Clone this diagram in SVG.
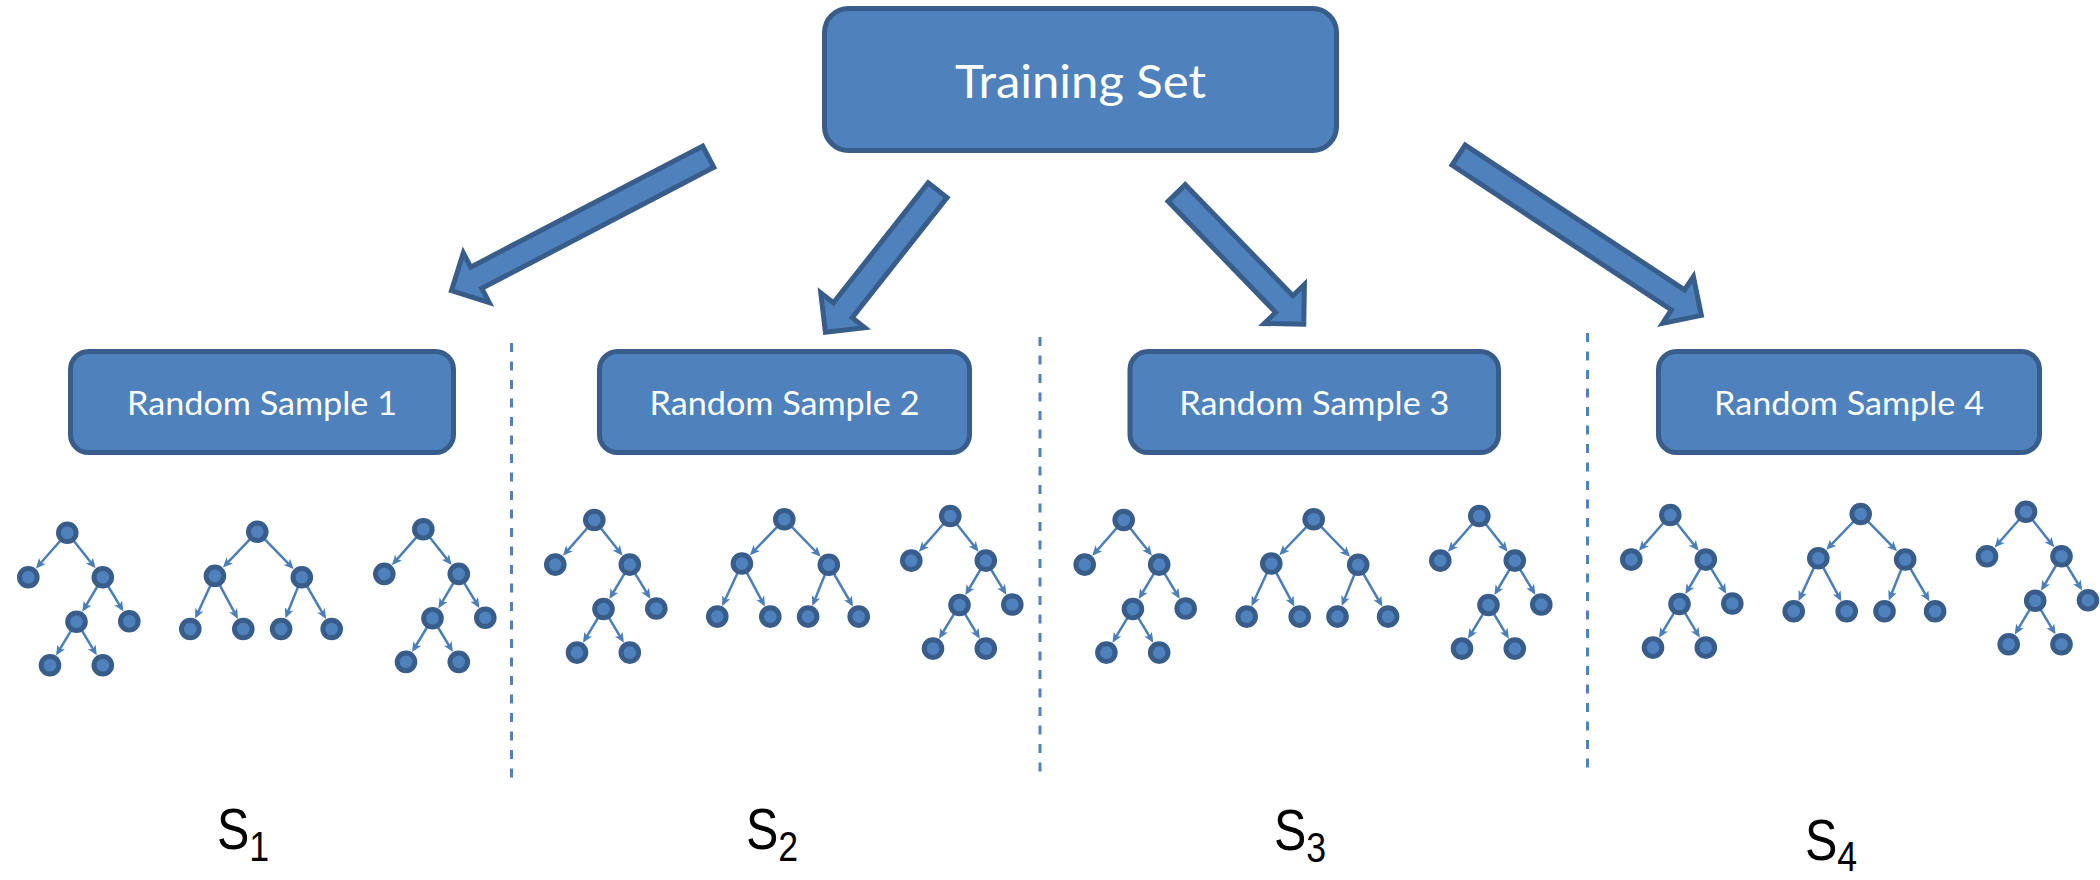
<svg xmlns="http://www.w3.org/2000/svg" xmlns:xlink="http://www.w3.org/1999/xlink" width="2100" height="880" viewBox="0 0 2100 880">
<style>
.box{fill:#4F81BD;stroke:#385D8A;stroke-width:5}
.arrow{fill:#4F81BD;stroke:#385D8A;stroke-width:5;stroke-linejoin:miter;stroke-miterlimit:10}
.lbl{font-family:Lato,"Open Sans","Liberation Sans",sans-serif;fill:#FFFFFF;text-anchor:middle}
.tn{fill:#4F81BD;stroke:#385D8A;stroke-width:5}
.te{stroke:#4A7EBB;stroke-width:2.5;fill:none;marker-end:url(#ah)}
.div{stroke:#4F81BD;stroke-width:3;stroke-dasharray:9 9.5;fill:none}
.s{font-family:"Liberation Sans",Arial,sans-serif;font-size:57px;fill:#000000}
.sub{font-size:42px}
</style>
<defs>
<marker id="ah" viewBox="0 0 10 10" refX="7" refY="5" markerWidth="10" markerHeight="10" markerUnits="userSpaceOnUse" orient="auto">
<path d="M0,0.5 L10,5 L0,9.5 L2.5,5 Z" fill="#4A7EBB"/>
</marker>
<g id="treeA">
<line class="te" x1="-5.9" y1="6.8" x2="-29.4" y2="33.6"/>
<line class="te" x1="5.6" y1="7" x2="26.4" y2="33.3"/>
<line class="te" x1="30.9" y1="52.3" x2="16.6" y2="76.5"/>
<line class="te" x1="40.1" y1="52.3" x2="54.5" y2="76.1"/>
<line class="te" x1="4.5" y1="96.7" x2="-9.7" y2="120.2"/>
<line class="te" x1="13.9" y1="96.7" x2="28" y2="120.1"/>
<circle class="tn" cx="0" cy="0" r="8.8"/>
<circle class="tn" cx="-39" cy="44.6" r="8.8"/>
<circle class="tn" cx="35.5" cy="44.6" r="8.8"/>
<circle class="tn" cx="9.2" cy="89" r="8.8"/>
<circle class="tn" cx="62" cy="88.5" r="8.8"/>
<circle class="tn" cx="-17.3" cy="132.6" r="8.8"/>
<circle class="tn" cx="35.5" cy="132.6" r="8.8"/>
</g>
<g id="treeB">
<line class="te" x1="-6.2" y1="6.5" x2="-32.3" y2="33.7"/>
<line class="te" x1="6.3" y1="6.4" x2="34.3" y2="35.2"/>
<line class="te" x1="-46.2" y1="52.4" x2="-60.9" y2="84.2"/>
<line class="te" x1="-38.2" y1="52.1" x2="-20.8" y2="84.6"/>
<line class="te" x1="41.2" y1="53.9" x2="29.2" y2="83.8"/>
<line class="te" x1="49" y1="53.3" x2="67.2" y2="84.7"/>
<circle class="tn" cx="0" cy="0" r="8.8"/>
<circle class="tn" cx="-42.4" cy="44.2" r="8.8"/>
<circle class="tn" cx="44.5" cy="45.5" r="8.8"/>
<circle class="tn" cx="-67" cy="97.3" r="8.8"/>
<circle class="tn" cx="-14" cy="97.3" r="8.8"/>
<circle class="tn" cx="23.8" cy="97.3" r="8.8"/>
<circle class="tn" cx="74.4" cy="97.3" r="8.8"/>
</g>
</defs>
<rect width="2100" height="880" fill="#FFFFFF"/>

<g id="training-set">
<rect class="box" x="824.5" y="8.5" width="512" height="142" rx="24"/>
<text class="lbl" x="1080.5" y="98" font-size="46" textLength="251" lengthAdjust="spacingAndGlyphs">Training Set</text>
</g>

<g id="connectors">
<path class="arrow" transform="translate(708.3,156.7) rotate(152.45)" d="M0,-12 H261.7 V-28 L289.7,0 L261.7,28 V12 H0 Z"/>
<path class="arrow" transform="translate(937.6,190.2) rotate(128.3)" d="M0,-12 H153 V-28 L181,0 L153,28 V12 H0 Z"/>
<path class="arrow" transform="translate(1176.7,193) rotate(45.9)" d="M0,-12 H154.6 V-28 L182.6,0 L154.6,28 V12 H0 Z"/>
<path class="arrow" transform="translate(1458.6,155.1) rotate(33.44)" d="M0,-12 H262.9 V-28 L290.9,0 L262.9,28 V12 H0 Z"/>
</g>

<g id="random-sample-1">
<rect class="box" x="70.5" y="351.5" width="383" height="101" rx="18"/>
<text class="lbl" x="262" y="415" font-size="33" textLength="270" lengthAdjust="spacingAndGlyphs">Random Sample 1</text>
</g>
<g id="random-sample-2">
<rect class="box" x="599.5" y="351.5" width="370" height="101" rx="18"/>
<text class="lbl" x="784.5" y="415" font-size="33" textLength="270" lengthAdjust="spacingAndGlyphs">Random Sample 2</text>
</g>
<g id="random-sample-3">
<rect class="box" x="1130" y="351.5" width="368.5" height="101" rx="18"/>
<text class="lbl" x="1314.3" y="415" font-size="33" textLength="270" lengthAdjust="spacingAndGlyphs">Random Sample 3</text>
</g>
<g id="random-sample-4">
<rect class="box" x="1658.5" y="351.5" width="381" height="101" rx="18"/>
<text class="lbl" x="1849" y="415" font-size="33" textLength="270" lengthAdjust="spacingAndGlyphs">Random Sample 4</text>
</g>

<g id="dividers">
<line class="div" x1="511.5" y1="343" x2="511.5" y2="783"/>
<line class="div" x1="1040" y1="337" x2="1040" y2="777"/>
<line class="div" x1="1587.5" y1="333" x2="1587.5" y2="774"/>
</g>

<g id="trees-1">
<use xlink:href="#treeA" href="#treeA" transform="translate(67.3,532.7)"/>
<use xlink:href="#treeB" href="#treeB" transform="translate(257.3,531.7)"/>
<use xlink:href="#treeA" href="#treeA" transform="translate(423.3,529.3)"/>
</g>
<g id="trees-2">
<use xlink:href="#treeA" href="#treeA" transform="translate(594.3,520)"/>
<use xlink:href="#treeB" href="#treeB" transform="translate(784.3,519.3)"/>
<use xlink:href="#treeA" href="#treeA" transform="translate(950.3,516)"/>
</g>
<g id="trees-3">
<use xlink:href="#treeA" href="#treeA" transform="translate(1123.7,520)"/>
<use xlink:href="#treeB" href="#treeB" transform="translate(1313.7,519.3)"/>
<use xlink:href="#treeA" href="#treeA" transform="translate(1479.3,516)"/>
</g>
<g id="trees-4">
<use xlink:href="#treeA" href="#treeA" transform="translate(1670.3,515)"/>
<use xlink:href="#treeB" href="#treeB" transform="translate(1860.7,514)"/>
<use xlink:href="#treeA" href="#treeA" transform="translate(2026,511.7)"/>
</g>

<g id="label-s1" transform="translate(217,849) scale(0.85,1)"><text class="s" x="0" y="0">S<tspan class="sub" dy="12">1</tspan></text></g>
<g id="label-s2" transform="translate(746,849) scale(0.85,1)"><text class="s" x="0" y="0">S<tspan class="sub" dy="12">2</tspan></text></g>
<g id="label-s3" transform="translate(1274,850) scale(0.85,1)"><text class="s" x="0" y="0">S<tspan class="sub" dy="12">3</tspan></text></g>
<g id="label-s4" transform="translate(1805,860) scale(0.85,1)"><text class="s" x="0" y="0">S<tspan class="sub" dy="11">4</tspan></text></g>
</svg>
